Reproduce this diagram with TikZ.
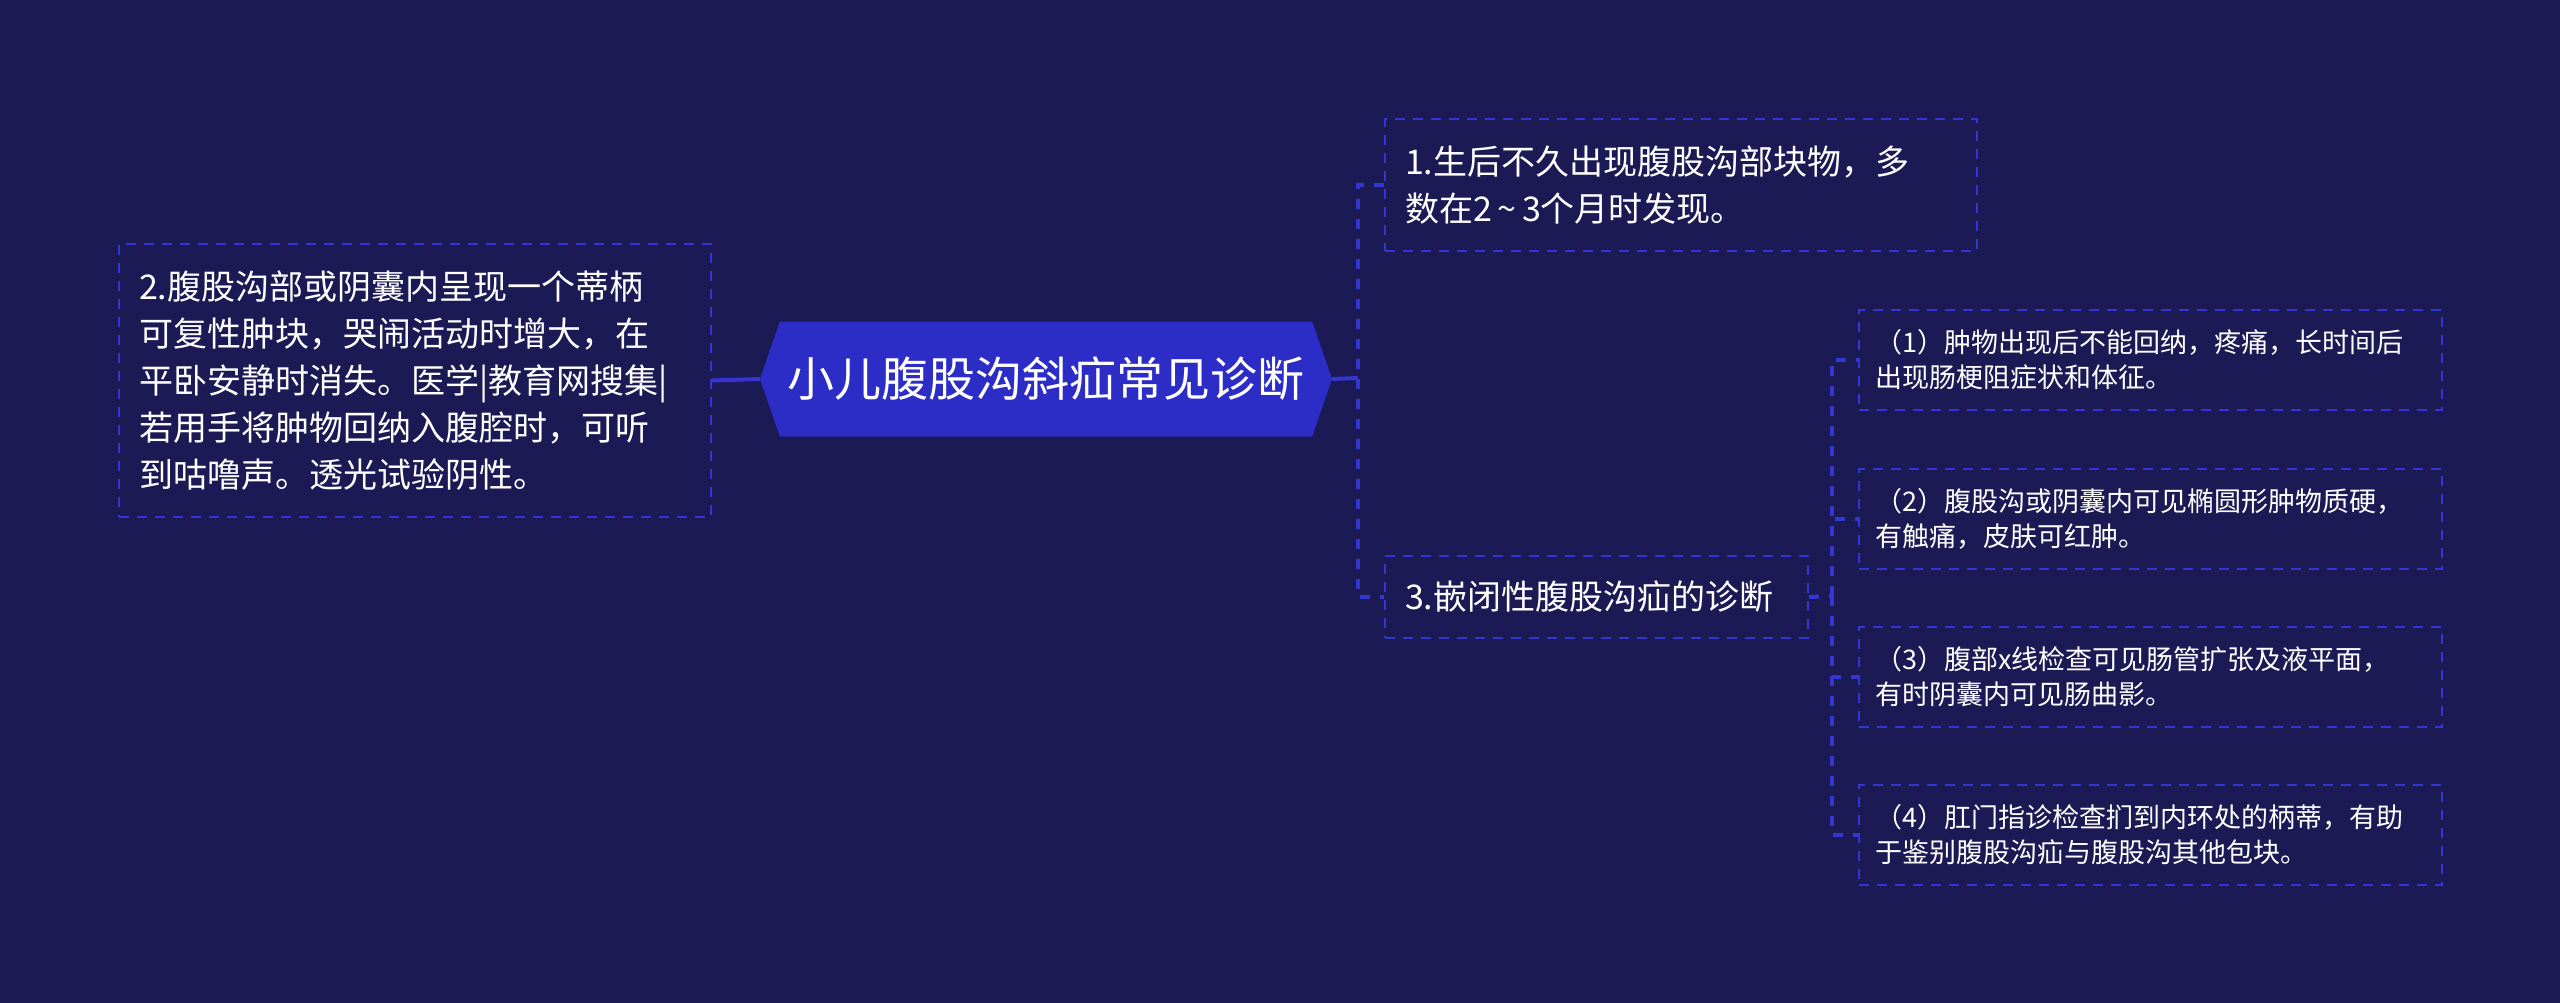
\documentclass[tikz,border=0pt]{standalone}
\usepackage{fontspec}
\setmainfont{Noto Sans CJK SC}
\usetikzlibrary{shapes.symbols,calc}

\definecolor{bgnavy}{HTML}{1B1A55}
\definecolor{hexblue}{HTML}{2C2CC6}
\definecolor{lineblue}{HTML}{3535D2}

\begin{document}
\begin{tikzpicture}[x=1pt,y=-1pt,
    topic/.style={draw=lineblue,dashed,line width=2pt,dash pattern=on 10pt off 8pt,
        text=white,align=left,anchor=north west,inner xsep=20pt,
        font=\fontsize{34}{47}\selectfont},
    sub/.style={topic,inner xsep=16pt,minimum height=100pt,text width=551pt,
        font=\fontsize{27}{35}\selectfont},
    link/.style={draw=lineblue,line width=4pt},
    dline/.style={link,dash pattern=on 10pt off 10pt}]
        \fill[bgnavy] (0,0) rectangle (2560,1003);
        \useasboundingbox (0,0) rectangle (2560,1003);
        % centre
        \node[signal,signal to=east and west,signal pointer angle=142,fill=hexblue,
        minimum width=572pt,minimum height=115pt,text=white,font=\fontsize{47}{56}\selectfont]
        (main) at (1046,379) {小儿腹股沟斜疝常见诊断};
        % topics
        \node[topic,text width=552pt,minimum height=132pt]
        (s1) at (1384,118) {1.生后不久出现腹股沟部块物，多\\数在2\,\textasciitilde\,3个月时发现。};
        \node[topic,text width=552pt,minimum height=273pt]
        (s2) at (118,243) {2.腹股沟部或阴囊内呈现一个蒂柄\\可复性肿块，哭闹活动时增大，在\\平卧安静时消失。医学|教育网搜集|\\若用手将肿物回纳入腹腔时，可听\\到咕噜声。透光试验阴性。};
        \node[topic,text width=383pt,minimum height=82pt]
        (s3) at (1384,555) {3.嵌闭性腹股沟疝的诊断};
        % sub topics of 3
        \node[sub]
        (c1) at (1858,309) {（1）肿物出现后不能回纳，疼痛，长时间后\\出现肠梗阻症状和体征。};
        \node[sub]
        (c2) at (1858,468) {（2）腹股沟或阴囊内可见椭圆形肿物质硬，\\有触痛，皮肤可红肿。};
        \node[sub]
        (c3) at (1858,626) {（3）腹部x线检查可见肠管扩张及液平面，\\有时阴囊内可见肠曲影。};
        \node[sub]
        (c4) at (1858,784) {（4）肛门指诊检查扪到内环处的柄蒂，有助\\于鉴别腹股沟疝与腹股沟其他包块。};
        % connectors
        \coordinate (rjoin) at (1358,378);
        \coordinate (cjoin) at (1832,596);
        \draw[link] (main.west) -- (s2.east);
        \draw[link] (main.east) -- (rjoin);
        \draw[dline] (s1.west) -| (rjoin) |- (s3.west);
        \draw[dline] (s3.east) -- (cjoin);
        \foreach \c in {c1,c2,c3,c4}
            \draw[dline] (cjoin) |- (\c.west);
\end{tikzpicture}
\end{document}
